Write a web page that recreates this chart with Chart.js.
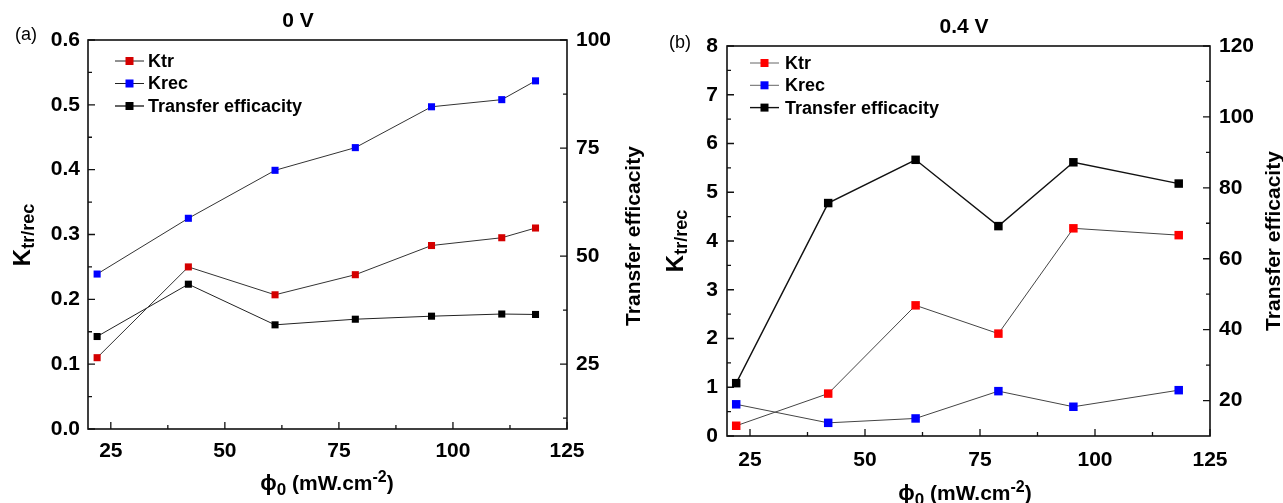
<!DOCTYPE html>
<html>
<head>
<meta charset="utf-8">
<script src="https://cdn.jsdelivr.net/npm/chart.js@4/dist/chart.umd.min.js"></script>
<style>
  html, body { margin: 0; padding: 0; background: #fff; }
  #wrap { position: relative; width: 1283px; height: 503px; overflow: hidden; }
  canvas { position: absolute; top: 0; }
  #ca { left: 0; }
  #cb { left: 645px; }
</style>
</head>
<body>
<div id="wrap">
  <canvas id="ca" width="645" height="503"></canvas>
  <canvas id="cb" width="638" height="503"></canvas>
</div>
<script>
// Shared x axis ticks (light flux, mW/cm2)
const xTicks = [25, 50, 75, 100, 125];
const seriesNames = ['Ktr', 'Krec', 'Transfer efficacity'];

// Panel (a): 0 V
const fluxA = [22, 42, 61, 78.6, 95.3, 110.7, 118.1];
const ktrA  = [0.110, 0.250, 0.207, 0.238, 0.283, 0.295, 0.310];
const krecA = [0.239, 0.325, 0.399, 0.434, 0.497, 0.508, 0.537];
const effA  = [31.4, 43.5, 34.1, 35.4, 36.1, 36.6, 36.5];
const kTicksA   = [0, 0.1, 0.2, 0.3, 0.4, 0.5, 0.6];
const effTicksA = [25, 50, 75, 100];

// Panel (b): 0.4 V
const fluxB = [22, 42, 61, 79, 95.3, 118.2];
const ktrB  = [0.21, 0.87, 2.68, 2.10, 4.26, 4.12];
const krecB = [0.65, 0.27, 0.36, 0.92, 0.60, 0.94];
const effB  = [24.9, 75.7, 87.9, 69.2, 87.2, 81.2];
const kTicksB   = [0, 1, 2, 3, 4, 5, 6, 7, 8];
const effTicksB = [20, 40, 60, 80, 100, 120];

const FONT = '"Liberation Sans", Arial, Helvetica, sans-serif';
const tickFont = { family: FONT, size: 21, weight: 'bold' };

function pts(xs, ys) { return xs.map((x, i) => ({ x, y: ys[i] })); }

// midpoints between major ticks that fall inside the axis range
function minorTicks(major, min, max) {
  const step = major[1] - major[0];
  const out = [];
  for (let v = major[0] - step / 2; v < max + 1e-9; v += step) {
    if (v > min + 1e-9 && v < max - 1e-9) out.push(v);
  }
  return out;
}

function fixedTicks(values) {
  return s => { s.ticks = values.map(v => ({ value: v })); };
}

// draws a run of text pieces with their own size and vertical shift
function drawRich(ctx, segs, x, y, align) {
  let total = 0;
  segs.forEach(s => {
    ctx.font = (s.weight || 'bold') + ' ' + s.size + 'px ' + FONT;
    s.w = ctx.measureText(s.t).width;
    total += s.w;
  });
  let cx = align === 'center' ? x - total / 2 : x;
  ctx.textAlign = 'left';
  ctx.textBaseline = 'alphabetic';
  segs.forEach(s => {
    ctx.font = (s.weight || 'bold') + ' ' + s.size + 'px ' + FONT;
    ctx.fillText(s.t, cx, y + (s.dy || 0));
    cx += s.w;
  });
}

const framePlugin = {
  id: 'frame',
  beforeDatasetsDraw(chart, args, o) {
    const { ctx, chartArea: a, scales } = chart;
    ctx.save();
    ctx.strokeStyle = '#111';
    ctx.lineWidth = 1.6;
    ctx.strokeRect(a.left, a.top, a.right - a.left, a.bottom - a.top);
    ctx.lineWidth = 1.3;
    const major = 7, minor = 4;
    ctx.beginPath();
    const xs = scales.x, yl = scales.y, yr = scales.y1;
    xTicks.forEach(v => { const p = xs.getPixelForValue(v); ctx.moveTo(p, a.bottom); ctx.lineTo(p, a.bottom - major); });
    minorTicks(xTicks, xs.min, xs.max).forEach(v => { const p = xs.getPixelForValue(v); ctx.moveTo(p, a.bottom); ctx.lineTo(p, a.bottom - minor); });
    o.kTicks.forEach(v => { const p = yl.getPixelForValue(v); ctx.moveTo(a.left, p); ctx.lineTo(a.left + major, p); });
    minorTicks(o.kTicks, yl.min, yl.max).forEach(v => { const p = yl.getPixelForValue(v); ctx.moveTo(a.left, p); ctx.lineTo(a.left + minor, p); });
    o.effTicks.forEach(v => { const p = yr.getPixelForValue(v); ctx.moveTo(a.right, p); ctx.lineTo(a.right - major, p); });
    minorTicks(o.effTicks, yr.min, yr.max).forEach(v => { const p = yr.getPixelForValue(v); ctx.moveTo(a.right, p); ctx.lineTo(a.right - minor, p); });
    ctx.stroke();
    ctx.restore();
  },
  afterDraw(chart, args, o) {
    const { ctx } = chart;
    ctx.save();
    ctx.fillStyle = '#000';
    // panel tag and bias title
    ctx.font = 'normal 18px ' + FONT;
    ctx.textAlign = 'center';
    ctx.textBaseline = 'middle';
    ctx.fillText(o.tag, o.tagX, o.tagY);
    ctx.font = 'bold 21px ' + FONT;
    ctx.fillText(o.title, o.titleX, o.titleY);

    // legend
    const L = o.legend;
    chart.data.datasets.forEach((ds, i) => {
      const y = L.y0 + i * L.dy;
      ctx.strokeStyle = L.lineColors[i];
      ctx.lineWidth = L.lineWidths[i];
      ctx.beginPath();
      ctx.moveTo(L.x0, y); ctx.lineTo(L.x1, y);
      ctx.stroke();
      ctx.fillStyle = ds.pointBackgroundColor;
      const m = (L.x0 + L.x1) / 2;
      ctx.fillRect(m - L.size / 2, y - L.size / 2, L.size, L.size);
      ctx.fillStyle = '#000';
      ctx.font = 'bold 18px ' + FONT;
      ctx.textAlign = 'left';
      ctx.textBaseline = 'middle';
      ctx.fillText(ds.label, L.xt, y + 1);
    });

    // left axis title  K tr/rec
    ctx.save();
    ctx.translate(o.leftTitleX, o.leftTitleY);
    ctx.rotate(-Math.PI / 2);
    drawRich(ctx, [
      { t: 'K', size: 24 },
      { t: 'tr/rec', size: 18, dy: 4 }
    ], 0, 0, 'center');
    ctx.restore();

    // right axis title
    ctx.save();
    ctx.translate(o.rightTitleX, o.rightTitleY);
    ctx.rotate(-Math.PI / 2);
    drawRich(ctx, [{ t: 'Transfer efficacity', size: 21 }], 0, 0, 'center');
    ctx.restore();

    // x axis title  phi0 (mW.cm-2)
    drawRich(ctx, [
      { t: '\u03D5', size: 22 },
      { t: '0', size: 17, dy: 5 },
      { t: ' (mW.cm', size: 21 },
      { t: '-2', size: 16, dy: -8 },
      { t: ')', size: 21 }
    ], o.xTitleX, o.xTitleY, 'center');
    ctx.restore();
  }
};

function buildPanel(id, p) {
  const canvas = document.getElementById(id);
  const W = canvas.width, H = canvas.height;
  const mk = (label, xs, ys, color, axis, lw, lc) => ({
    label, data: pts(xs, ys), yAxisID: axis,
    borderColor: lc, borderWidth: lw,
    backgroundColor: color,
    pointBackgroundColor: color, pointBorderColor: color, pointBorderWidth: 0,
    pointStyle: 'rect', pointRadius: p.r, pointHoverRadius: p.r,
    tension: 0, fill: false
  });
  return new Chart(canvas, {
    type: 'line',
    data: {
      datasets: [
        mk(seriesNames[0], p.flux, p.ktr, p.red, 'y', p.lw[0], p.lc[0]),
        mk(seriesNames[1], p.flux, p.krec, p.blue, 'y', p.lw[1], p.lc[1]),
        mk(seriesNames[2], p.flux, p.eff, '#000000', 'y1', p.lw[2], p.lc[2])
      ]
    },
    options: {
      responsive: false,
      animation: false,
      devicePixelRatio: 1,
      events: [],
      layout: { padding: { top: p.area.t, left: 0, right: 0, bottom: 0 } },
      plugins: {
        legend: { display: false },
        tooltip: { enabled: false },
        title: { display: false },
        frame: p.deco
      },
      scales: {
        x: {
          type: 'linear', position: 'bottom', min: 20, max: 125,
          afterBuildTicks: fixedTicks(xTicks),
          afterFit: s => { s.height = H - p.area.b; },
          grid: { display: false, drawTicks: false }, border: { display: false },
          ticks: { padding: p.xPad, color: '#000', font: tickFont, maxRotation: 0, autoSkip: false, callback: v => String(v) }
        },
        y: {
          type: 'linear', position: 'left', min: 0, max: p.kTicks[p.kTicks.length - 1],
          afterBuildTicks: fixedTicks(p.kTicks),
          afterFit: s => { s.width = p.area.l; },
          grid: { display: false, drawTicks: false }, border: { display: false },
          ticks: { padding: p.yPad, color: '#000', font: tickFont, autoSkip: false, callback: p.kFmt }
        },
        y1: {
          type: 'linear', position: 'right', min: p.effMin, max: p.effMax,
          afterBuildTicks: fixedTicks(p.effTicks),
          afterFit: s => { s.width = W - p.area.r; },
          grid: { display: false, drawTicks: false }, border: { display: false },
          ticks: { padding: p.y1Pad, color: '#000', font: tickFont, autoSkip: false, callback: v => String(v) }
        }
      }
    },
    plugins: [framePlugin]
  });
}

buildPanel('ca', {
  flux: fluxA, ktr: ktrA, krec: krecA, eff: effA,
  kTicks: kTicksA, effTicks: effTicksA, effMin: 10, effMax: 100,
  kFmt: v => v.toFixed(1),
  area: { l: 88, r: 567, t: 40, b: 429 },
  xPad: 10, yPad: 8, y1Pad: 9,
  r: 5, red: '#d40000', blue: '#0000ff',
  lw: [1, 1, 1], lc: ['#333', '#333', '#222'],
  deco: {
    kTicks: kTicksA, effTicks: effTicksA,
    tag: '(a)', tagX: 26, tagY: 35,
    title: '0 V', titleX: 298, titleY: 21,
    legend: { x0: 115, x1: 144, xt: 148, y0: 61, dy: 22.5, size: 8,
              lineColors: ['#222', '#222', '#111'], lineWidths: [1, 1, 1.3] },
    leftTitleX: 30, leftTitleY: 235,
    rightTitleX: 640, rightTitleY: 236,
    xTitleX: 327, xTitleY: 490
  }
});

buildPanel('cb', {
  flux: fluxB, ktr: ktrB, krec: krecB, eff: effB,
  kTicks: kTicksB, effTicks: effTicksB, effMin: 10, effMax: 120,
  kFmt: v => String(v),
  area: { l: 82, r: 565, t: 46, b: 436 },
  xPad: 12, yPad: 9, y1Pad: 9,
  r: 6, red: '#ff0000', blue: '#0000ff',
  lw: [1, 1, 1.4], lc: ['#444', '#444', '#111'],
  deco: {
    kTicks: kTicksB, effTicks: effTicksB,
    tag: '(b)', tagX: 35, tagY: 43,
    title: '0.4 V', titleX: 319, titleY: 27,
    legend: { x0: 105, x1: 134, xt: 140, y0: 63, dy: 22.3, size: 8,
              lineColors: ['#666', '#666', '#111'], lineWidths: [1, 1, 1.4] },
    leftTitleX: 38, leftTitleY: 241,
    rightTitleX: 635, rightTitleY: 241,
    xTitleX: 320, xTitleY: 500
  }
});
</script>
</body>
</html>
